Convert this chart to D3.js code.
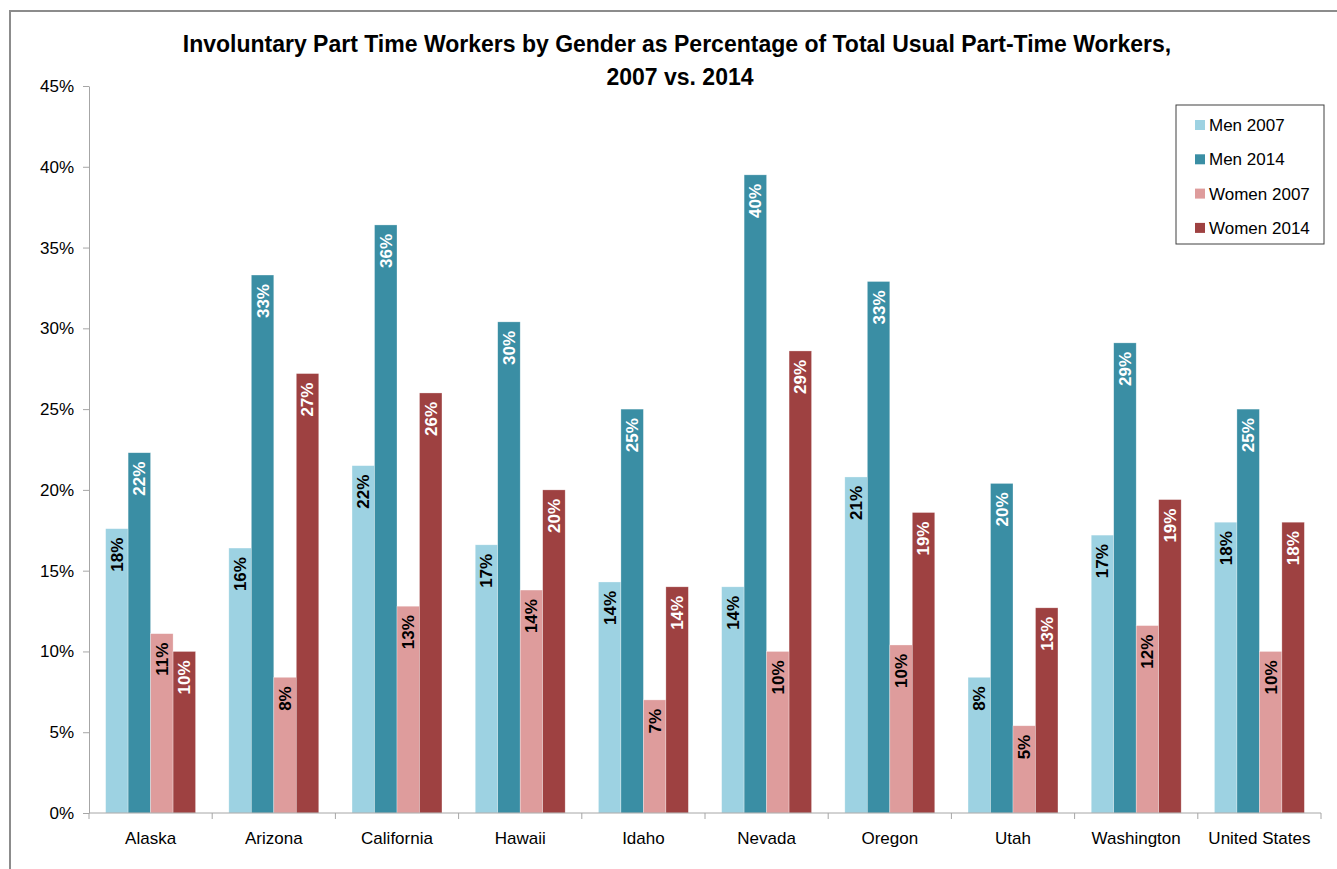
<!DOCTYPE html>
<html>
<head>
<meta charset="utf-8">
<script src="https://cdn.jsdelivr.net/npm/d3@7"></script>
<style>
  html, body { margin: 0; padding: 0; background: #fff; }
  svg { display: block; }
  .narrow { font-family: "Liberation Sans Narrow", "Arial Narrow", "Liberation Sans", Arial, sans-serif; font-stretch: condensed; }
</style>
</head>
<body>
<svg id="chart" width="1337" height="869"></svg>
<script>
const categories = ["Alaska", "Arizona", "California", "Hawaii", "Idaho", "Nevada", "Oregon", "Utah", "Washington", "United States"];
const seriesNames = ["Men 2007", "Men 2014", "Women 2007", "Women 2014"];
const men2007   = [17.6, 16.4, 21.5, 16.6, 14.3, 14.0, 20.8, 8.4, 17.2, 18.0];
const men2014   = [22.3, 33.3, 36.4, 30.4, 25.0, 39.5, 32.9, 20.4, 29.1, 25.0];
const women2007 = [11.1, 8.4, 12.8, 13.8, 7.0, 10.0, 10.4, 5.4, 11.6, 10.0];
const women2014 = [10.0, 27.2, 26.0, 20.0, 14.0, 28.6, 18.6, 12.7, 19.4, 18.0];
const yTicks = [0, 5, 10, 15, 20, 25, 30, 35, 40, 45];
const titleLines = ["Involuntary Part Time Workers by Gender as Percentage of Total Usual Part-Time Workers,", "2007 vs. 2014"];

const seriesValues = [men2007, men2014, women2007, women2014];
const colors = ["#9dd2e2", "#3a8ea4", "#de9c9c", "#9e4141"];
const labelColors = ["#000", "#fff", "#000", "#fff"];

const svg = d3.select("#chart");
const font = '"Liberation Sans Narrow", "Arial Narrow", "Liberation Sans", Arial, sans-serif';

// outer frame
svg.append("path")
  .attr("d", "M10,900 L10,11 L1340,11")
  .attr("fill", "none").attr("stroke", "#8c8c8c").attr("stroke-width", 2);

const plotLeft = 89, plotRight = 1321, plotTop = 86, plotBottom = 813;

const x0 = d3.scaleBand().domain(categories).range([plotLeft, plotRight]).padding(0);
const bw = x0.bandwidth();
const x1 = d3.scaleBand().domain(seriesNames).range([bw * 0.135, bw * 0.865]).padding(0);
const y = d3.scaleLinear().domain([0, 45]).range([plotBottom, plotTop]);

// title
svg.append("text")
  .attr("class", "narrow")
  .attr("x", 677).attr("y", 52)
  .attr("text-anchor", "middle")
  .attr("font-size", 23).attr("font-weight", "bold").attr("fill", "#000")
  .text(titleLines[0]);
svg.append("text")
  .attr("class", "narrow")
  .attr("x", 680).attr("y", 85)
  .attr("text-anchor", "middle")
  .attr("font-size", 23).attr("font-weight", "bold").attr("fill", "#000")
  .text(titleLines[1]);

// y axis
const yAxis = d3.axisLeft(y).tickValues(yTicks).tickFormat(d => d + "%").tickSize(6).tickSizeOuter(0);
const gy = svg.append("g").attr("transform", `translate(${plotLeft},0)`).call(yAxis);
gy.select(".domain").attr("stroke", "#a6a6a6");
gy.selectAll(".tick line").attr("stroke", "#a6a6a6");
gy.selectAll(".tick text").attr("font-family", font).attr("font-size", 17).attr("fill", "#000").attr("x", -15);

// bars
const groups = svg.append("g").selectAll("g")
  .data(categories).join("g")
  .attr("transform", d => `translate(${x0(d)},0)`);

groups.each(function(cat, ci) {
  const g = d3.select(this);
  seriesNames.forEach((s, si) => {
    const v = seriesValues[si][ci];
    g.append("rect")
      .attr("x", x1(s)).attr("y", y(v))
      .attr("width", x1.bandwidth()).attr("height", y(0) - y(v))
      .attr("fill", colors[si])
      .attr("stroke", "rgba(255,255,255,0.5)").attr("stroke-width", 0.6);
    const cx = x1(s) + x1.bandwidth() / 2;
    const ty = y(v) + 9;
    g.append("text")
      .attr("transform", `translate(${cx},${ty}) rotate(-90)`)
      .attr("text-anchor", "end")
      .attr("dy", "0.35em")
      .attr("font-family", font).attr("font-weight", "bold").attr("font-size", 17)
      .attr("fill", labelColors[si])
      .text(Math.round(v) + "%");
  });
});

// x axis
const gx = svg.append("g").attr("transform", `translate(0,${plotBottom})`);
gx.append("line").attr("x1", plotLeft).attr("x2", plotRight).attr("y1", 0).attr("y2", 0).attr("stroke", "#a6a6a6");
const boundaries = categories.map(c => x0(c)).concat([plotRight]);
gx.selectAll("line.tk").data(boundaries).join("line")
  .attr("class", "tk")
  .attr("x1", d => d).attr("x2", d => d).attr("y1", 0).attr("y2", 6).attr("stroke", "#a6a6a6");
gx.selectAll("text").data(categories).join("text")
  .attr("x", d => x0(d) + bw / 2).attr("y", 31)
  .attr("text-anchor", "middle")
  .attr("font-family", font).attr("font-size", 17).attr("fill", "#000")
  .text(d => d);

// legend
const lg = svg.append("g");
lg.append("rect").attr("x", 1176).attr("y", 105).attr("width", 148).attr("height", 139)
  .attr("fill", "#fff").attr("stroke", "#404040").attr("stroke-width", 1);
seriesNames.forEach((s, i) => {
  const cy = 125 + i * 34.3;
  lg.append("rect").attr("x", 1195).attr("y", cy - 5).attr("width", 10).attr("height", 10).attr("fill", colors[i]);
  lg.append("text").attr("x", 1209).attr("y", cy).attr("dy", "0.35em")
    .attr("font-family", font).attr("font-size", 17).attr("fill", "#000").text(s);
});
</script>
</body>
</html>
